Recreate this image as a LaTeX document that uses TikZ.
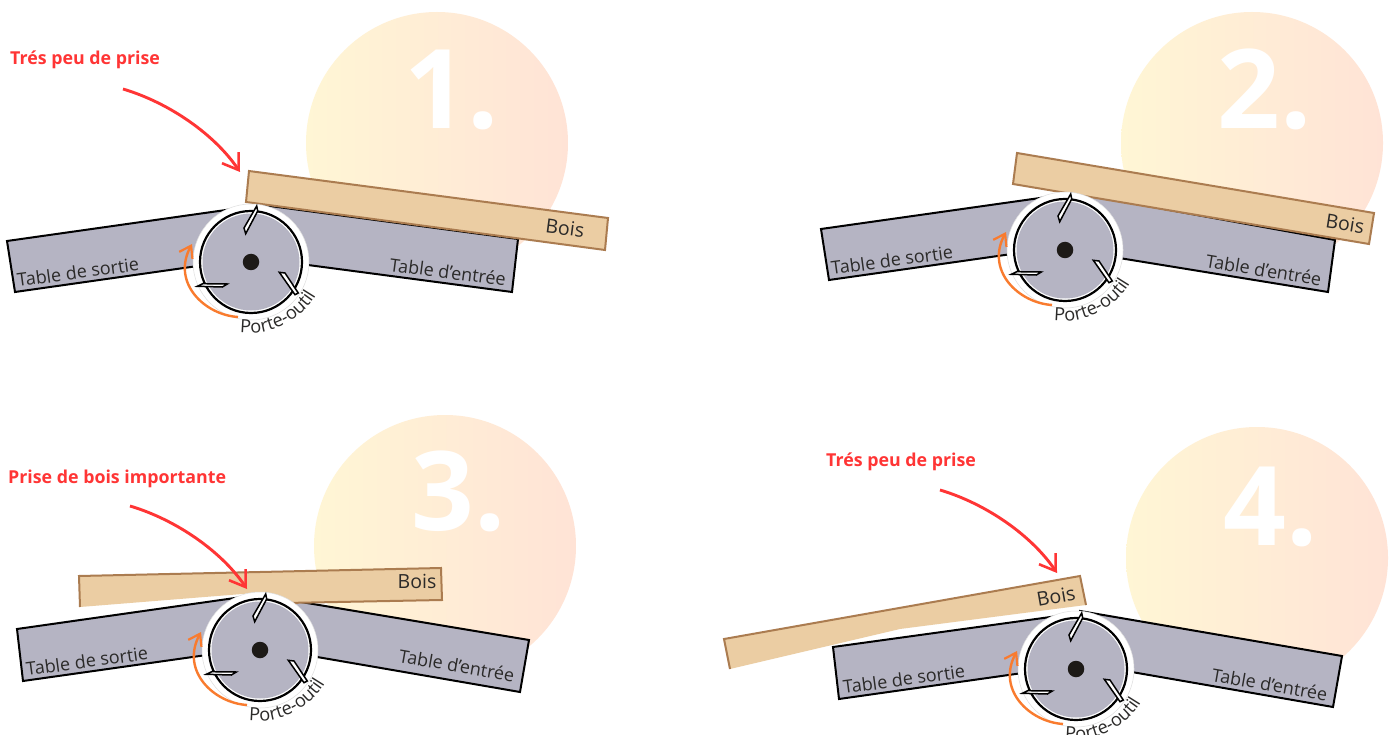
\documentclass[tikz,border=0pt]{standalone}
\usepackage{fontspec}
\setmainfont{Open Sans}
\usetikzlibrary{arrows.meta,decorations.text}
\definecolor{discL}{HTML}{FFF6D5}
\definecolor{discR}{HTML}{FFE3D6}
\definecolor{steel}{HTML}{B5B4C3}
\definecolor{woodfill}{HTML}{EBCDA3}
\definecolor{woodline}{HTML}{AB7C50}
\definecolor{ink}{HTML}{2B2A29}
\definecolor{hubc}{HTML}{1D1A17}
\definecolor{redc}{HTML}{FF3535}
\definecolor{orangec}{HTML}{F97B2E}
\newcommand{\labfont}{\fontsize{18}{18}\selectfont}
\newcommand{\portefont}{\fontsize{18.2}{18}\selectfont\color{ink}}
\tikzset{
  discbg/.style={circle,minimum size=262pt,inner sep=0pt,shading=axis,left color=discL,right color=discR},
  bignum/.style={anchor=base west,inner sep=0pt,text=white,font=\fontsize{110}{110}\selectfont\bfseries},
  tablebox/.style={fill=steel,draw=black,line width=2pt,line join=miter},
  woodfillst/.style={fill=woodfill},
  woodst/.style={draw=woodline,line width=2pt},
  tablab/.style={anchor=base west,inner sep=0pt,text=ink,font=\labfont},
  boislab/.style={inner sep=0pt,text=ink,font=\fontsize{19.5}{19.5}\selectfont},
  redlab/.style={anchor=base west,inner sep=0pt,text=redc,font=\fontsize{17.8}{18}\selectfont\bfseries},
  redarrow/.style={draw=redc,line width=2.9pt,-{Straight Barb[length=15pt,width=20pt,line width=2.6pt]}},
  orangearrow/.style={draw=orangec,line width=2.4pt,-{Straight Barb[length=11pt,width=15pt,line width=2.2pt]}},
  haloc/.style={circle,minimum size=116pt,inner sep=0pt,fill=white,draw=black!13,line width=.5pt},
  wheel/.style={circle,minimum size=102pt,inner sep=0pt,fill=white,draw=black,line width=2.2pt},
  wheelin/.style={circle,minimum size=97pt,inner sep=0pt,fill=steel},
  hubdot/.style={circle,minimum size=16.5pt,inner sep=0pt,fill=hubc},
  toothst/.style={fill=white,draw=black,line width=1.5pt,line join=miter},
}
% id, cx, cy
\newcommand{\cutter}[3]{%
  \begin{scope}[shift={(#2,#3)}]
    \node[haloc] (halo#1) at (0,0) {};
    \node[wheel] (wheel#1) at (0,0) {};
    \node[wheelin] (inner#1) at (0,0) {};
    \node[hubdot] (hub#1) at (0,0) {};
    \draw[toothst] (5.7,-56) -- (6.7,-51) -- (-5.3,-28.3) -- (-7,-34) -- cycle;
    \draw[toothst] (28.3,10.3) -- (34,11) -- (47.3,31) -- (44,32.7) -- cycle;
    \draw[toothst] (-53.7,24.3) -- (-48.3,21.7) -- (-23.7,22) -- (-28.7,25) -- cycle;
    \coordinate (os#1) at (-13,55);
    \coordinate (oe#1) at (-59,-18);
    \draw[orangearrow] (os#1) .. controls (-46,53) and (-80,21) .. (oe#1);
    \path[decorate,decoration={text along path,text align=left,text={|\portefont|Porte-outil}}]
      (-11,70.5) .. controls (19.65,74.5) and (52,58.3) .. (66.7,30.2);
  \end{scope}%
}
\begin{document}
\begin{tikzpicture}[x=1pt,y=-1pt]
\useasboundingbox (0,0) rectangle (1394,735);
\fill[white] (0,0) rectangle (1394,735);

% --- backgrounds
\node[discbg] (d1) at (437,143) {};
\node[discbg] (d2) at (1252,143) {};
\node[discbg] (d3) at (445,546) {};
\node[discbg] (d4) at (1257,558) {};
\node[bignum] (n1) at (404,129) {1.};
\node[bignum] (n2) at (1217,129) {2.};
\node[bignum] (n3) at (411,530) {3.};
\node[bignum] (n4) at (1223,545) {4.};

% --- panel 1
\draw[tablebox] (7,241) -- (240,208) -- (240,260) -- (15,292) -- cycle;
\draw[tablebox] (255,204) -- (518,239) -- (512,292) -- (255,258) -- cycle;
\fill[woodfillst] (249,171) -- (608,218) -- (605,250) -- (246,202) -- cycle;
\draw[woodst] (249,171) -- (608,218) -- (605,250) -- (246,202) -- cycle;
\cutter{a}{251}{262}
\node[tablab,rotate=7.7] (ts1) at (18,287) {Table de sortie};
\node[tablab,rotate=-7.5] (te1) at (389,271) {Table d’entrée};
\node[boislab,rotate=-7.5] (b1) at (565,228) {Bois};
\node[redlab] (r1) at (10,65) {Trés peu de prise};
\coordinate (ra1) at (123,89);
\coordinate (rb1) at (240,172);
\draw[redarrow] (ra1) .. controls (170,103) and (215,135) .. (rb1);

% --- panel 2
\draw[tablebox] (821,229) -- (1054,196) -- (1054,248) -- (829,280) -- cycle;
\draw[tablebox] (1070,192) -- (1335,240) -- (1328,292) -- (1070,250) -- cycle;
\fill[woodfillst] (1017,153) -- (1374,213) -- (1369,244) -- (1013,184) -- cycle;
\draw[woodst] (1017,153) -- (1374,213) -- (1369,244) -- (1013,184) -- cycle;
\cutter{b}{1065}{250}
\node[tablab,rotate=7.7] (ts2) at (832,275) {Table de sortie};
\node[tablab,rotate=-9.5] (te2) at (1205,267) {Table d’entrée};
\node[boislab,rotate=-9] (b2) at (1345,224) {Bois};

% --- panel 3
\draw[tablebox] (17,629) -- (249,596) -- (249,649) -- (23,681) -- cycle;
\draw[tablebox] (265,596) -- (529,640) -- (520,692) -- (265,648) -- cycle;
\fill[woodfillst] (79,576) -- (441,568) -- (442,600) -- (285,603) -- (267,592) -- (80,607) -- cycle;
\draw[woodst] (285,603) -- (442,600) -- (441,568) -- (79,576) -- (80,607);
\cutter{c}{260}{650}
\node[tablab,rotate=7.7] (ts3) at (27,676) {Table de sortie};
\node[tablab,rotate=-10] (te3) at (398,662) {Table d’entrée};
\node[boislab] (b3) at (417,581) {Bois};
\node[redlab] (r3) at (8,483) {Prise de bois importante};
\coordinate (ra3) at (130,506);
\coordinate (rb3) at (247,589);
\draw[redarrow] (ra3) .. controls (177,520) and (222,552) .. (rb3);

% --- panel 4
\draw[tablebox] (833,647) -- (1065,615) -- (1065,667) -- (839,699) -- cycle;
\draw[tablebox] (1080,611) -- (1342,656) -- (1333,707) -- (1080,663) -- cycle;
\fill[woodfillst] (724,639) -- (1080,576) -- (1086,605) -- (900,629) -- (730,669) -- cycle;
\draw[woodst] (1086,605) -- (1080,576) -- (724,639) -- (730,669);
\cutter{d}{1076}{669}
\node[tablab,rotate=7.7] (ts4) at (844,694) {Table de sortie};
\node[tablab,rotate=-10] (te4) at (1211,681) {Table d’entrée};
\node[boislab,rotate=10] (b4) at (1056,596) {Bois};
\node[redlab] (r4) at (826,466) {Trés peu de prise};
\coordinate (ra4) at (940,490);
\coordinate (rb4) at (1057,573);
\draw[redarrow] (ra4) .. controls (987,504) and (1032,536) .. (rb4);
\end{tikzpicture}
\end{document}
